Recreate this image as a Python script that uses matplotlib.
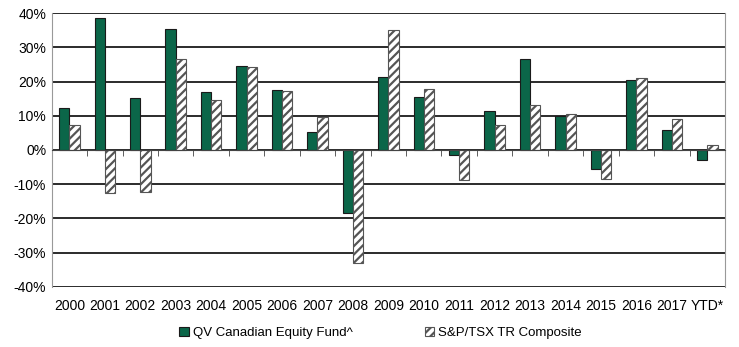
import matplotlib.pyplot as plt
import numpy as np

plt.rcParams['font.family'] = ['Liberation Sans', 'DejaVu Sans']
plt.rcParams['hatch.color'] = '#555555'
plt.rcParams['hatch.linewidth'] = 1.6

# valores (%)
anos = ['2000', '2001', '2002', '2003', '2004', '2005', '2006', '2007', '2008', '2009',
        '2010', '2011', '2012', '2013', '2014', '2015', '2016', '2017', 'YTD*']
fundo = [12.2, 38.5, 15.3, 35.4, 17.0, 24.6, 17.5, 5.2, -18.3, 21.2,
         15.4, -1.5, 11.5, 26.6, 9.9, -5.5, 20.3, 5.8, -2.9]
indice = [7.4, -12.6, -12.4, 26.7, 14.6, 24.2, 17.3, 9.7, -33.0, 35.0,
          17.7, -8.7, 7.2, 13.0, 10.5, -8.5, 21.1, 9.1, 1.4]

x = np.arange(len(anos))
w = 0.29

fig = plt.figure(figsize=(7.39, 3.47), dpi=100)
ax = fig.add_axes([0.070, 0.173, 0.911, 0.7895])

ax.bar(x - w/2, fundo, w, color='#0b6649', edgecolor='#1a1a1a', linewidth=0.8,
       label='QV Canadian Equity Fund^', zorder=3)
ax.bar(x + w/2, indice, w, color='white', edgecolor='#555555', linewidth=0.8,
       hatch='////', label='S&P/TSX TR Composite', zorder=3)

ax.set_ylim(-40, 40)
ax.set_xlim(-0.5, len(anos) - 0.5)
ax.set_yticks(np.arange(-40, 41, 10))
ax.set_yticklabels([f'{v}%' for v in range(-40, 41, 10)], fontsize=10)
ax.yaxis.grid(True, color='#1a1a1a', linewidth=1.3, zorder=0)
ax.tick_params(axis='y', length=0, pad=4)

# eixo x no zero com marcas entre categorias
ax.spines['bottom'].set_position(('data', 0))
ax.spines['bottom'].set_color('#444444')
ax.spines['bottom'].set_zorder(4)
ax.spines['top'].set_visible(False)
ax.spines['left'].set_color('#999999')
ax.spines['right'].set_color('#999999')
ax.set_xticks(x)
ax.set_xticklabels(anos, fontsize=10)
ax.set_xticks(np.arange(-0.5, len(anos), 1), minor=True)
ax.tick_params(axis='x', which='major', length=0, pad=107)
ax.tick_params(axis='x', which='minor', length=4, direction='out', color='#444444')

fig.legend(loc='center', bbox_to_anchor=(0.515, 0.04), ncol=2, frameon=False,
           fontsize=9.5, handlelength=0.7, handleheight=0.7, handletextpad=0.3,
           columnspacing=5.5)

plt.savefig('out.png', dpi=100)
